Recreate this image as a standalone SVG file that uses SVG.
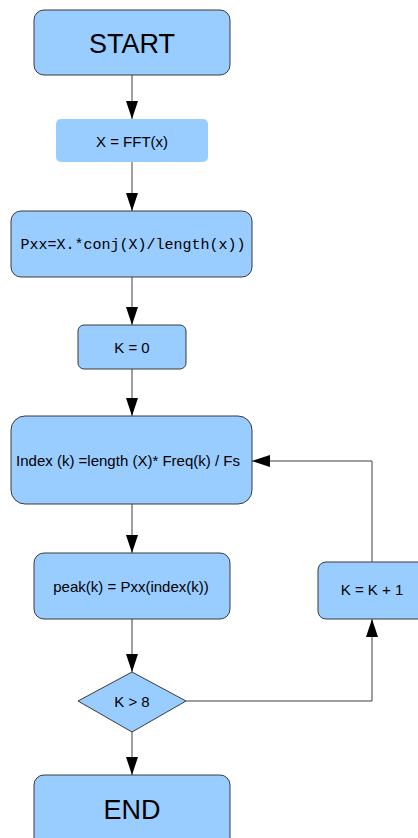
<svg xmlns="http://www.w3.org/2000/svg" width="418" height="838" viewBox="0 0 418 838">
  <style>
    .box { fill: #99ccff; stroke: #3a3a3a; stroke-width: 1; }
    .plain { fill: #99ccff; stroke: none; }
    .lbl { font-family: "Liberation Sans", Arial, sans-serif; fill: #000; text-anchor: middle; }
    .mono { font-family: "Liberation Mono", "Courier New", monospace; fill: #000; text-anchor: middle; }
    .edge { fill: none; stroke: #404040; stroke-width: 1; marker-end: url(#arrow); }
  </style>
  <defs>
    <marker id="arrow" markerUnits="userSpaceOnUse" markerWidth="18" markerHeight="12" viewBox="0 0 18 12" refX="18" refY="6" orient="auto">
      <path d="M0,0 L18,6 L0,12 Z" fill="#000"/>
    </marker>
  </defs>
  <rect width="418" height="838" fill="#fff"/>

  <g id="connectors">
    <line class="edge" x1="132" y1="75" x2="132" y2="119"/>
    <line class="edge" x1="132" y1="162" x2="132" y2="211"/>
    <line class="edge" x1="132" y1="277" x2="132" y2="325"/>
    <line class="edge" x1="132" y1="369" x2="132" y2="416"/>
    <line class="edge" x1="132" y1="504" x2="132" y2="553"/>
    <line class="edge" x1="132" y1="619" x2="132" y2="672"/>
    <line class="edge" x1="132" y1="732" x2="132" y2="775"/>
    <polyline class="edge" points="186,701 372,701 372,619"/>
    <polyline class="edge" points="372,562 372,461 252,461"/>
  </g>

  <g id="start">
    <rect class="box" x="34" y="10" width="196" height="65" rx="10"/>
    <text class="lbl" x="132" y="53" font-size="27">START</text>
  </g>
  <g id="fft">
    <rect class="plain" x="56" y="119" width="152" height="43" rx="5"/>
    <text class="lbl" x="132" y="147" font-size="15">X = FFT(x)</text>
  </g>
  <g id="pxx">
    <rect class="box" x="11" y="211" width="241" height="66" rx="10"/>
    <text class="mono" x="133" y="249" font-size="15">Pxx=X.*conj(X)/length(x))</text>
  </g>
  <g id="k0">
    <rect class="box" x="78" y="325" width="108" height="44" rx="6"/>
    <text class="lbl" x="132" y="353" font-size="15">K = 0</text>
  </g>
  <g id="index">
    <rect class="box" x="11" y="416" width="241" height="88" rx="14"/>
    <text class="lbl" x="128" y="466" font-size="15">Index (k) =length (X)* Freq(k) / Fs</text>
  </g>
  <g id="peak">
    <rect class="box" x="34" y="553" width="196" height="66" rx="10"/>
    <text class="lbl" x="131" y="592" font-size="15">peak(k) = Pxx(index(k))</text>
  </g>
  <g id="kinc">
    <rect class="box" x="318" y="562" width="108" height="57" rx="8"/>
    <text class="lbl" x="372" y="595" font-size="15">K = K + 1</text>
  </g>
  <g id="test">
    <polygon class="box" points="132,672 186,701 132,732 78,701"/>
    <text class="lbl" x="132" y="707" font-size="15">K &gt; 8</text>
  </g>
  <g id="end">
    <rect class="box" x="34" y="775" width="196" height="80" rx="10"/>
    <text class="lbl" x="132" y="819" font-size="27">END</text>
  </g>
</svg>
